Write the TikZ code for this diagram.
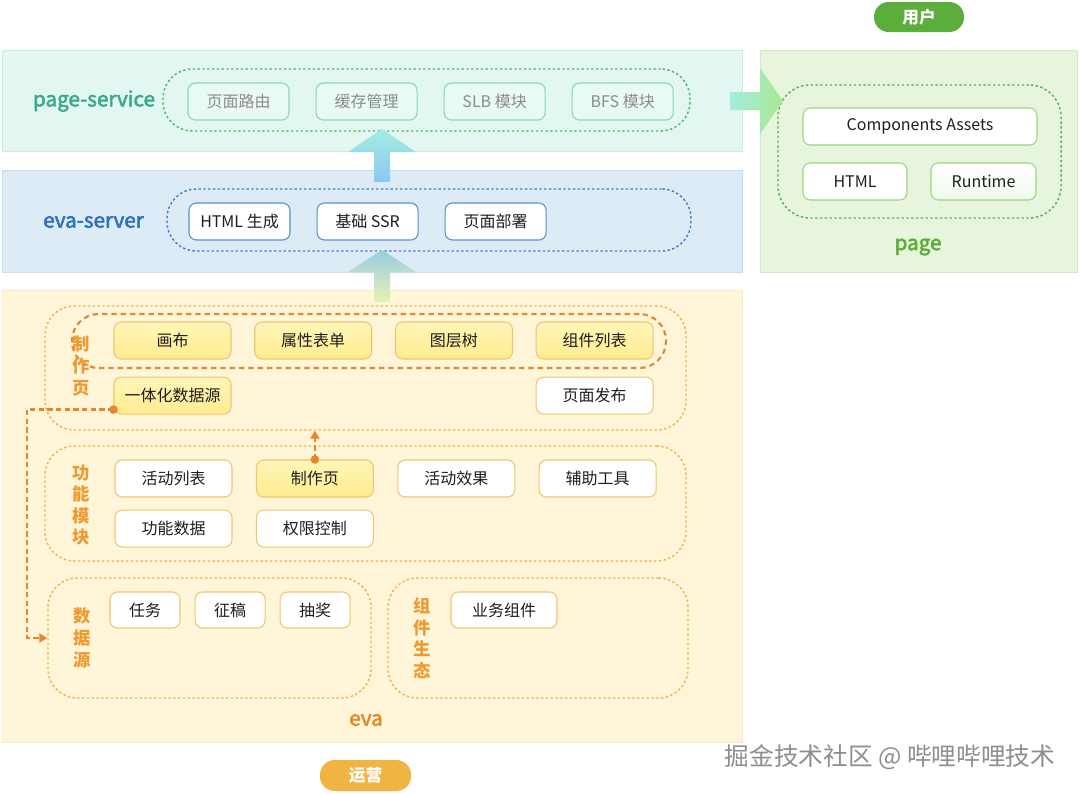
\documentclass[tikz,border=0pt]{standalone}
\usepackage{fontspec}
\setmainfont{Noto Sans CJK SC}
\newfontfamily\medfont[FakeBold=2.5]{Noto Sans CJK SC}
\usetikzlibrary{arrows.meta,positioning,calc}
\definecolor{txt}{HTML}{1E1E1E}
\definecolor{psfill}{HTML}{E3F7F2}
\definecolor{psedge}{HTML}{C8EEE3}
\definecolor{pstitle}{HTML}{3BAA8C}
\definecolor{psline}{HTML}{8DD3BC}
\definecolor{psbox}{HTML}{E9F9F4}
\definecolor{pstxt}{HTML}{8C8C8C}
\definecolor{psgrp}{HTML}{4CBB6A}
\definecolor{esfill}{HTML}{DDEBF7}
\definecolor{esedge}{HTML}{C9DDF0}
\definecolor{estitle}{HTML}{2F72B8}
\definecolor{esline}{HTML}{5A8FCB}
\definecolor{esgrp}{HTML}{3F82C6}
\definecolor{pgfill}{HTML}{E7F5DD}
\definecolor{pgedge}{HTML}{D2EBC2}
\definecolor{pgtitle}{HTML}{5AAE35}
\definecolor{pgline}{HTML}{98D486}
\definecolor{pggrp}{HTML}{5AAE6A}
\definecolor{evfill}{HTML}{FFF6DA}
\definecolor{evedge}{HTML}{FAEBC4}
\definecolor{evtxt}{HTML}{EE9A30}
\definecolor{evtitle}{HTML}{E08A2A}
\definecolor{evline}{HTML}{F2C46E}
\definecolor{evgrp}{HTML}{F3B24A}
\definecolor{oline}{HTML}{E8862E}
\definecolor{yel1}{HTML}{FFF5B8}
\definecolor{yel2}{HTML}{FFEC90}
\definecolor{userpill}{HTML}{5BAE3B}
\definecolor{opspill}{HTML}{F0B443}
\definecolor{mark}{HTML}{8E8E8E}
\definecolor{arrmint}{HTML}{A3EDE0}
\definecolor{arrsky}{HTML}{8DC6F2}
\definecolor{arrteal}{HTML}{98CDE4}
\definecolor{arrlime}{HTML}{E8F2B0}
\definecolor{arrleaf}{HTML}{A8E890}

\begin{document}
\begin{tikzpicture}[x=0.75pt, y=-0.75pt, node distance=17pt,
  wh/.style 2 args={minimum width=#1*0.75pt, minimum height=#2*0.75pt},
  band/.style={draw, line width=0.6pt, inner sep=0},
  grp/.style={line width=1.1pt, dash pattern=on 1.8pt off 1.8pt, rounded corners=22pt, inner sep=0},
  box/.style={draw, line width=0.8pt, rounded corners=5.5pt, inner sep=0, text=txt, font=\fontsize{12}{14}\selectfont},
  psbox/.style={box, wh={101}{37}, draw=psline, fill=psbox, text=pstxt},
  esbox/.style={box, wh={101}{37}, draw=esline, fill=white},
  pgbox/.style={box, draw=pgline, fill=white},
  ybox/.style={box, wh={117}{37}, draw=evline, top color=yel1, bottom color=yel2},
  wbox/.style={box, wh={117}{37}, draw=evline, fill=white},
  sbox/.style={box, wh={70}{36}, draw=evline, fill=white},
  title/.style={font=\fontsize{15.5}{17}\medfont},
  vlabel/.style={align=center, text=evtxt, font=\fontsize{13}{16.2}\selectfont\bfseries},
  pill/.style={rounded corners=11pt, text=white, font=\fontsize{12.5}{13}\selectfont\bfseries, wh={90}{30}},
  oarr/.style={draw=oline, line width=1.8pt, dash pattern=on 4pt off 2.5pt, -{Triangle[length=6pt,width=7pt]}},
  odot/.style={circle, fill=oline, inner sep=0, minimum size=6.5pt}]
\useasboundingbox (0,0) rectangle (1080,793);
\fill[white] (0,0) rectangle (1080,793);

% layers
\node[band, fill=psfill, draw=psedge, wh={740}{101}] (ps) at (372,100.5) {};
\node[band, fill=esfill, draw=esedge, wh={740}{102}] (es) at (372,221) {};
\node[band, fill=evfill, draw=evedge, wh={740}{452}] (ev) at (372,516) {};
\node[band, fill=pgfill, draw=pgedge, wh={317}{222}] (pg) at (918.5,161) {};

\node[pill, fill=userpill] (user) at (919,17) {用户};
\node[pill, fill=opspill, wh={91}{31}] (ops) at (365.5,775.5) {运营};

% page-service
\node[title, text=pstitle] (pstl) at (94,101) {page-service};
\node[grp, draw=psgrp, wh={527}{62}] (psg) at (426.5,100) {};
\node[psbox] (route) at (238.5,101.5) {页面路由};
\node[psbox, right=19.5pt of route] (cache) {缓存管理};
\node[psbox, right=19.5pt of cache] (slb) {SLB 模块};
\node[psbox, right=19.5pt of slb] (bfs) {BFS 模块};

% eva-server
\node[title, text=estitle] (estl) at (93.5,222) {eva-server};
\node[grp, draw=esgrp, wh={524}{62}] (esg) at (429,220) {};
\node[esbox] (html) at (239.5,221.5) {HTML 生成};
\node[esbox, right=19.5pt of html] (ssr) {基础 SSR};
\node[esbox, right=19.5pt of ssr] (deploy) {页面部署};

% page
\node[grp, draw=pggrp, wh={283}{133}, rounded corners=24pt] (pgg) at (919.5,151.5) {};
\node[pgbox, wh={234}{37}] (assets) at (920,126.5) {Components Assets};
\node[pgbox, wh={104}{37}] (phtml) at (855,181.5) {HTML};
\node[pgbox, wh={105}{37}, top color=white, bottom color=pgfill!60] (runtime) at (983.5,181.5) {Runtime};
\node[title, text=pgtitle] (pgtl) at (918,247) {page};

% eva
\node[grp, draw=evgrp, wh={641}{124}] (mk) at (365.5,368) {};
\node[grp, draw=oline, line width=1.6pt, dash pattern=on 4pt off 3pt, wh={594}{54}, rounded corners=20pt] (mkin) at (369,341) {};
\node[vlabel] (mktl) at (81,366) {制\\作\\页};
\node[ybox] (canvas) at (172.5,340.5) {画布};
\node[ybox, right=of canvas] (form) {属性表单};
\node[ybox, right=of form] (layer) {图层树};
\node[ybox, right=of layer] (clist) {组件列表};
\node[ybox, below=12.75pt of canvas] (ydata) {一体化数据源};
\node[wbox, below=12.75pt of clist] (publish) {页面发布};

\node[grp, draw=evgrp, wh={641}{115}] (gn) at (365.5,503.5) {};
\node[vlabel] (gntl) at (81,505) {功\\能\\模\\块};
\node[wbox] (alist) at (173.5,478.5) {活动列表};
\node[ybox, right=17.5pt of alist] (zy) {制作页};
\node[wbox, right=17.5pt of zy] (effect) {活动效果};
\node[wbox, right=17.5pt of effect] (tools) {辅助工具};
\node[wbox, below=9pt of alist] (fdata) {功能数据};
\node[wbox, below=9pt of zy] (perm) {权限控制};

\node[grp, draw=evgrp, wh={323}{120}] (sj) at (209.5,638) {};
\node[vlabel] (sjtl) at (82,638) {数\\据\\源};
\node[sbox] (task) at (145,610) {任务};
\node[sbox, right=10.5pt of task] (draft) {征稿};
\node[sbox, right=10.5pt of draft] (lottery) {抽奖};

\node[grp, draw=evgrp, wh={300}{120}] (zj) at (538,638) {};
\node[vlabel] (zjtl) at (422,638) {组\\件\\生\\态};
\node[box, wh={106}{36}, draw=evline, fill=white] (biz) at (504,610) {业务组件};

\node[title, text=evtitle] (evtl) at (366,720) {eva};

% block arrows
\coordinate (up1t) at (382,182);
\coordinate (up1h) at (382,129);
\shade[top color=arrmint, bottom color=arrsky] ($(up1t)+(-8,0)$) -- ($(up1h)+(-8,23)$) -- ($(up1h)+(-34,23)$) -- (up1h)
  -- ($(up1h)+(34,23)$) -- ($(up1h)+(8,23)$) -- ($(up1t)+(8,0)$) -- cycle;
\coordinate (up2t) at (382,302);
\coordinate (up2h) at (382,250);
\shade[top color=arrteal, bottom color=arrlime] ($(up2t)+(-8,0)$) -- ($(up2h)+(-8,22)$) -- ($(up2h)+(-34,22)$) -- (up2h)
  -- ($(up2h)+(34,22)$) -- ($(up2h)+(8,22)$) -- ($(up2t)+(8,0)$) -- cycle;
\coordinate (rtt) at (730,101);
\coordinate (rth) at (783,101);
\shade[left color=arrmint, right color=arrleaf] ($(rtt)+(0,-9)$) -- ($(rth)+(-23,-9)$) -- ($(rth)+(-23,-33)$) -- (rth)
  -- ($(rth)+(-23,33)$) -- ($(rth)+(-23,9)$) -- ($(rtt)+(0,9)$) -- cycle;

% dashed links
\draw[oarr] (zy.north) -- (zy.north |- mk.south);
\node[odot] (d1) at (zy.north) {};
\coordinate (d2) at ($(ydata.south west)+(0,-5)$);
\draw[oarr] (d2) -| ($(sj.west)+(-20,0)$) -- (sj.west);
\node[odot] at (d2) {};

\node[text=mark, font=\fontsize{18.5}{20}\selectfont] (wm) at (890,757) {掘金技术社区 @ 哔哩哔哩技术};
\end{tikzpicture}
\end{document}
